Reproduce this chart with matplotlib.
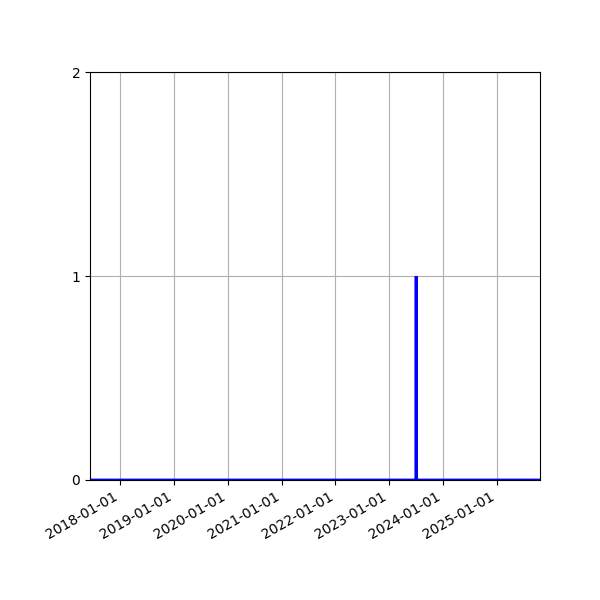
import matplotlib
matplotlib.use("Agg")
import matplotlib.pyplot as plt
import matplotlib.dates as mdates
import numpy as np

# daily counts: zero everywhere except one day
dates = np.array(['2017-06-12', '2023-07-01', '2023-07-02', '2023-07-03', '2025-10-19'], dtype='datetime64[D]')
counts = [0, 0, 1, 0, 0]

fig, ax = plt.subplots(figsize=(6, 6), dpi=100)
ax.plot(dates, counts, color='blue', linewidth=2, solid_joinstyle='bevel')

ax.set_xlim(dates[0], dates[-1])
ax.set_ylim(0, 2)
ax.set_yticks([0, 1, 2])
ax.xaxis.set_major_locator(mdates.YearLocator())
ax.xaxis.set_major_formatter(mdates.DateFormatter('%Y-%m-%d'))
ax.grid(True)

fig.autofmt_xdate()
fig.subplots_adjust(left=0.15, right=0.9, top=0.88, bottom=0.2)
fig.savefig("out.png", dpi=100)
